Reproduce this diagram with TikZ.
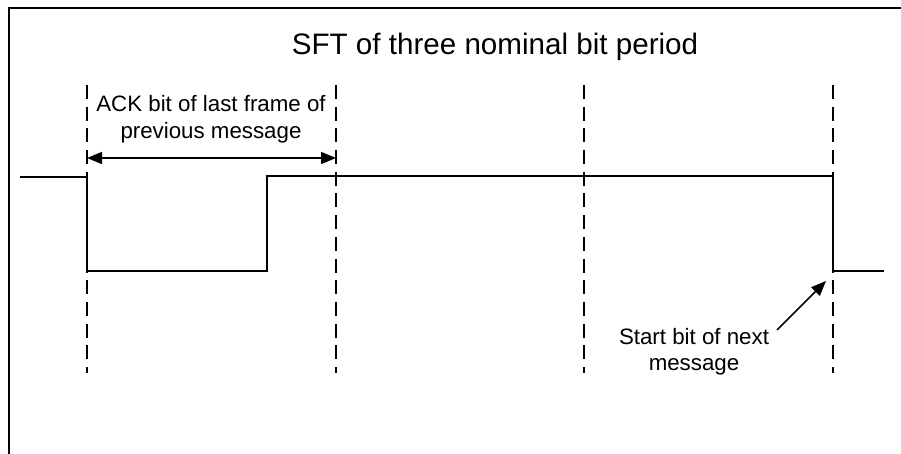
\documentclass[tikz,border=0pt]{standalone}
\usepackage{fontspec}
\setmainfont{Liberation Sans}
\usetikzlibrary{arrows.meta}
\begin{document}
\begin{tikzpicture}[x=1pt,y=-1pt,
  frame/.style={line width=2.5pt},
  signal/.style={line width=1.5pt, line join=miter},
  gridline/.style={line width=1.5pt, dash pattern=on 14pt off 7.7pt},
  lbl/.style={font=\fontsize{22.3}{26.3}\selectfont, align=center, inner sep=0pt},
  ttl/.style={font=\fontsize{29.6}{34}\selectfont, inner sep=0pt},
  dimarrow/.style={line width=1.5pt, {Triangle[length=15pt,width=12pt]}-{Triangle[length=15pt,width=12pt]}},
  ptr/.style={line width=1.5pt, -{Triangle[length=15pt,width=12pt]}}]
\useasboundingbox (0,0) rectangle (901,454);
% frame
\draw[frame] (9,454) -- (9,8) -- (901,8);
% title
\node[ttl, anchor=base] (title) at (495,55) {SFT of three nominal bit period};
% dashed bit boundaries
\foreach \n/\x in {a/87,b/336,c/584,d/833}{
  \coordinate (\n top) at (\x,85);
  \coordinate (\n bot) at (\x,373);
  \draw[gridline] (\n top) -- (\n bot);
}
% signal
\coordinate (s0) at (20,177);
\coordinate (s1) at (87,177);
\coordinate (s2) at (87,271);
\coordinate (s3) at (267,271);
\coordinate (s4) at (267,176);
\coordinate (s5) at (833,176);
\coordinate (s6) at (833,271);
\coordinate (s7) at (884,271);
\draw[signal] (s0) -- (s1) -- (s2) -- (s3) -- (s4) -- (s5) -- (s6) -- (s7);
% ACK label and dimension arrow
\node[lbl, anchor=north] (ack) at (211,95.4) {ACK bit of last frame of\\previous message};
\coordinate (ackL) at (87,158);
\coordinate (ackR) at (336,158);
\draw[dimarrow] (ackL) -- (ackR);
% start bit label and pointer
\node[lbl, anchor=north] (start) at (694,328) {Start bit of next\\message};
\coordinate (ptrS) at (777,330);
\coordinate (ptrE) at (826,281);
\draw[ptr] (ptrS) -- (ptrE);
\end{tikzpicture}
\end{document}
